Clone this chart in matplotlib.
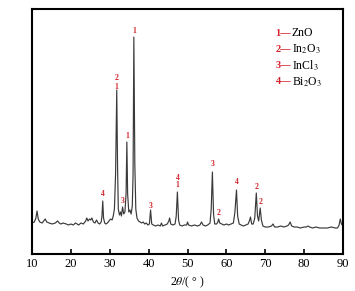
import matplotlib
matplotlib.use("Agg")
import matplotlib.pyplot as plt

plt.rcParams['font.family'] = ['Liberation Serif', 'DejaVu Serif']
plt.rcParams['mathtext.fontset'] = 'stix'

# XRD pattern (2theta in degrees, intensity in arbitrary units)
two_theta = [10.0, 10.6, 11.0, 11.3, 11.6, 12.0, 12.6, 13.0, 13.4, 13.8,
             14.4, 15.2, 16.0, 16.6, 17.0, 17.4, 18.0, 18.8, 19.4, 20.0,
             20.6, 21.2, 21.6, 22.0, 22.6, 23.2, 23.8, 24.1, 24.4, 24.8,
             25.1, 25.4, 25.8, 26.2, 26.6, 27.0, 27.4, 27.8, 28.0, 28.2,
             28.4, 28.7, 29.0, 29.4, 29.8, 30.2, 30.6, 30.9, 31.2, 31.5,
             31.8, 32.0, 32.2, 32.5, 32.8, 33.0, 33.3, 33.6, 33.9, 34.2,
             34.4, 34.6, 34.9, 35.2, 35.5, 35.8, 36.0, 36.2, 36.45, 36.7,
             37.0, 37.4, 37.8, 38.2, 38.6, 39.0, 39.4, 39.8, 40.2, 40.5,
             40.8, 41.2, 41.8, 42.4, 43.0, 43.3, 43.6, 44.2, 44.8, 45.2,
             45.4, 45.7, 46.2, 46.8, 47.1, 47.4, 47.7, 48.0, 48.6, 49.2,
             49.8, 50.0, 50.3, 51.0, 51.8, 52.6, 53.2, 53.6, 54.0, 54.6,
             55.2, 55.8, 56.1, 56.4, 56.7, 57.0, 57.5, 57.8, 58.0, 58.3,
             58.8, 59.4, 60.0, 60.6, 61.2, 61.8, 62.2, 62.6, 62.9, 63.3,
             63.8, 64.4, 65.0, 65.6, 66.0, 66.2, 66.5, 66.9, 67.3, 67.7,
             68.0, 68.3, 68.7, 69.0, 69.4, 70.0, 70.8, 71.6, 72.0, 72.4,
             73.2, 74.0, 74.8, 75.6, 76.0, 76.4, 76.8, 77.4, 78.2, 79.0,
             80.0, 80.6, 81.0, 81.4, 82.2, 83.0, 84.0, 85.0, 86.0, 87.0,
             88.0, 88.6, 89.0, 89.3, 89.6, 90.0]
intensity = [31, 32, 36, 43, 35, 32, 31, 33, 35, 32,
             31, 30, 31, 33, 31, 30, 31, 30, 29, 30,
             29, 31, 30, 29, 31, 30, 33, 36, 33, 35,
             34, 36, 32, 31, 34, 31, 30, 32, 38, 53,
             36, 31, 30, 31, 33, 35, 34, 38, 45, 80,
             164, 90, 45, 39, 42, 38, 47, 40, 42, 60,
             112, 60, 42, 44, 40, 48, 80, 217, 90, 45,
             36, 33, 32, 31, 32, 30, 31, 29, 30, 44,
             30, 29, 28, 29, 28, 31, 28, 29, 30, 33,
             36, 30, 29, 30, 38, 62, 34, 29, 28, 29,
             29, 32, 29, 28, 29, 28, 29, 32, 29, 28,
             29, 31, 45, 82, 40, 30, 30, 32, 35, 31,
             30, 29, 30, 29, 30, 31, 42, 64, 38, 30,
             29, 28, 29, 30, 34, 37, 30, 30, 36, 61,
             38, 33, 46, 34, 28, 27, 27, 28, 30, 27,
             27, 28, 27, 28, 29, 32, 28, 27, 27, 26,
             27, 27, 28, 27, 26, 27, 26, 26, 26, 27,
             26, 26, 29, 35, 30, 28]

# phase markers above peaks
label_x = [28.3, 31.8, 31.8, 33.3, 34.4, 36.2, 40.5, 47.4, 47.4, 56.4, 58.0, 62.6, 67.7, 68.8]
label_y = [60, 176, 167, 53, 118, 223, 48, 76, 69, 90, 41, 72, 67, 52]
label_text = ['4', '2', '1', '3', '1', '1', '3', '4', '1', '3', '2', '4', '2', '2']

legend_num = ['1', '2', '3', '4']
legend_name = ['ZnO', 'In$_2$O$_3$', 'InCl$_3$', 'Bi$_2$O$_3$']

red = '#d2232a'

fig = plt.figure(figsize=(3.55, 2.91), dpi=100)
ax = fig.add_axes([32 / 355, 37 / 291, 311 / 355, 245 / 291])

ax.plot(two_theta, intensity, color='#3a3a3a', lw=0.85)

for x, y, t in zip(label_x, label_y, label_text):
    ax.text(x, y, t, color=red, fontsize=5.5, ha='center', va='center', fontweight='bold')

for i, (n, name) in enumerate(zip(legend_num, legend_name)):
    yy = 1 - (33 + 16.3 * i) / 291
    fig.text(291 / 355, yy, n + '\u2014', color=red, fontsize=7.5, ha='right', va='center',
             fontweight='bold')
    fig.text(292 / 355, yy, name, color='black', fontsize=8.5, ha='left', va='center')

ax.set_xlim(10, 90)
ax.set_ylim(0, 245)
ax.set_xticks(range(10, 91, 10))
ax.set_yticks([])
ax.tick_params(axis='x', direction='in', length=3.5, width=1.2, labelsize=9, pad=3)
for s in ax.spines.values():
    s.set_linewidth(1.5)
ax.set_xlabel('2$\\theta$/( ° )', fontsize=8.5, labelpad=3)

fig.savefig('out.png', dpi=100)
